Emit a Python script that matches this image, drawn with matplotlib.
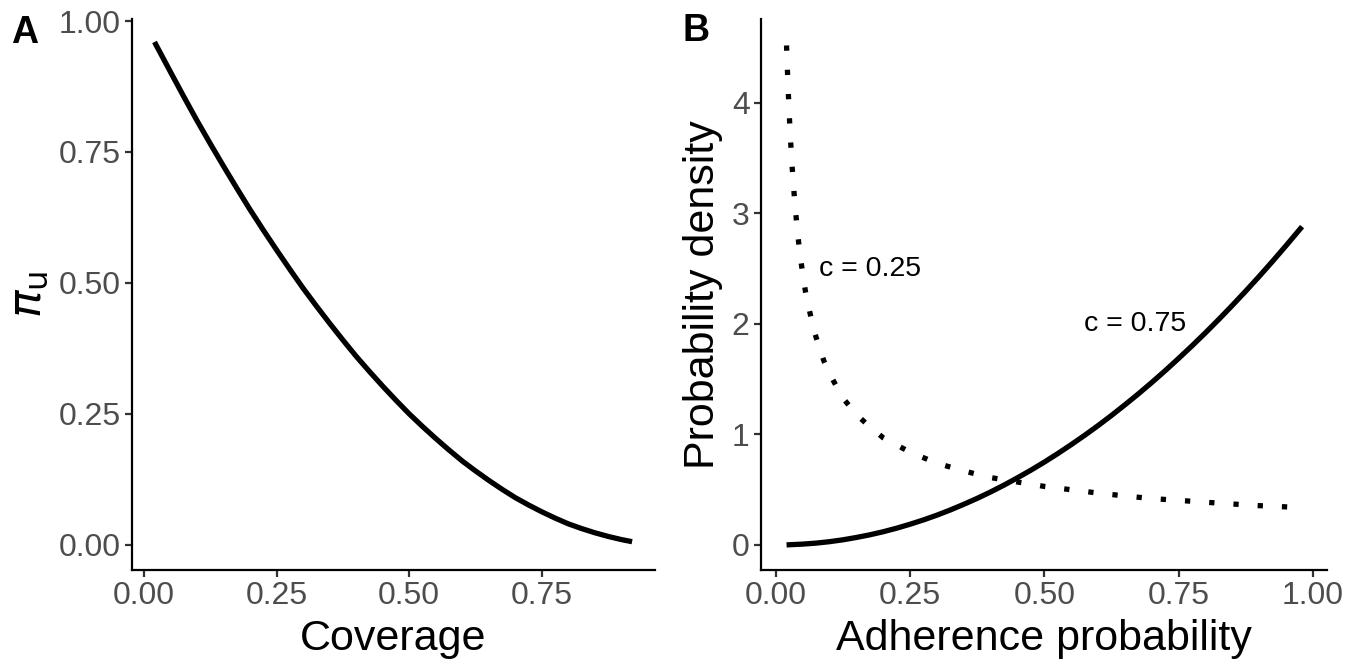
# Coverage / adherence figure, two panels
import matplotlib.pyplot as plt

plt.rcParams['font.family'] = ['Liberation Sans', 'DejaVu Sans']
plt.rcParams['mathtext.fontset'] = 'dejavusans'

# Panel A: pi_u against coverage
coverage = [0.02, 0.05, 0.075, 0.10, 0.125, 0.15, 0.175, 0.20, 0.225, 0.25,
            0.275, 0.30, 0.325, 0.35, 0.375, 0.40, 0.425, 0.45, 0.475, 0.50,
            0.525, 0.55, 0.575, 0.60, 0.625, 0.65, 0.675, 0.70, 0.725, 0.75,
            0.775, 0.80, 0.825, 0.85, 0.875, 0.90, 0.92]
pi_u = [0.960, 0.903, 0.856, 0.810, 0.766, 0.723, 0.681, 0.640, 0.601, 0.563,
        0.526, 0.490, 0.456, 0.423, 0.391, 0.360, 0.331, 0.303, 0.276, 0.250,
        0.226, 0.203, 0.181, 0.160, 0.141, 0.123, 0.106, 0.090, 0.076, 0.063,
        0.051, 0.040, 0.031, 0.023, 0.016, 0.010, 0.006]

# Panel B: adherence densities, c = 0.25 (dotted) and c = 0.75 (solid)
adh_low = [0.02, 0.0225, 0.025, 0.0275, 0.03, 0.035, 0.04, 0.045, 0.05, 0.055,
           0.06, 0.07, 0.08, 0.09, 0.10, 0.125, 0.15, 0.175, 0.20, 0.25,
           0.30, 0.35, 0.40, 0.45, 0.50, 0.55, 0.60, 0.65, 0.70, 0.75,
           0.80, 0.85, 0.90, 0.95, 0.98]
dens_low = [4.52, 4.18, 3.90, 3.66, 3.45, 3.12, 2.85, 2.63, 2.46, 2.30,
            2.18, 1.96, 1.80, 1.66, 1.55, 1.33, 1.18, 1.07, 0.97, 0.84,
            0.74, 0.67, 0.61, 0.57, 0.53, 0.50, 0.47, 0.444, 0.42, 0.404,
            0.387, 0.371, 0.356, 0.345, 0.338]
adh_high = [0.02, 0.05, 0.075, 0.10, 0.125, 0.15, 0.175, 0.20, 0.225, 0.25,
            0.275, 0.30, 0.325, 0.35, 0.375, 0.40, 0.425, 0.45, 0.475, 0.50,
            0.525, 0.55, 0.575, 0.60, 0.625, 0.65, 0.675, 0.70, 0.725, 0.75,
            0.775, 0.80, 0.825, 0.85, 0.875, 0.90, 0.925, 0.95, 0.98]
dens_high = [0.001, 0.008, 0.017, 0.030, 0.047, 0.068, 0.092, 0.120, 0.152, 0.188,
             0.227, 0.270, 0.317, 0.368, 0.422, 0.480, 0.542, 0.608, 0.677, 0.750,
             0.827, 0.908, 0.992, 1.080, 1.172, 1.268, 1.367, 1.470, 1.577, 1.688,
             1.802, 1.920, 2.042, 2.168, 2.297, 2.430, 2.567, 2.708, 2.881]

a_ticks = [0.00, 0.25, 0.50, 0.75, 1.00]
a_labels = ['0.00', '0.25', '0.50', '0.75', '1.00']
b_yticks = [0, 1, 2, 3, 4]

fig = plt.figure(figsize=(13.59, 6.65), dpi=100)
ax1 = fig.add_axes([0.0969, 0.1429, 0.385, 0.8286])
ax2 = fig.add_axes([0.5598, 0.1429, 0.4169, 0.8286])

ax1.plot(coverage, pi_u, color='black', lw=3.8, solid_capstyle='butt',
         solid_joinstyle='round')
ax1.set_xlim(-0.023, 0.963)
ax1.set_ylim(-0.048, 1.004)
ax1.set_xticks(a_ticks[:4])
ax1.set_xticklabels(a_labels[:4])
ax1.set_yticks(a_ticks)
ax1.set_yticklabels(a_labels)
ax1.set_xlabel('Coverage', fontsize=31, labelpad=6)
ax1.set_ylabel(r'$\pi_\mathrm{u}$', fontsize=33, labelpad=6)

ax2.plot(adh_low, dens_low, color='black', lw=3.8, linestyle=(0, (1, 3.6)))
ax2.plot(adh_high, dens_high, color='black', lw=3.8, solid_capstyle='butt',
         solid_joinstyle='round')
ax2.text(0.175, 2.5, 'c = 0.25', fontsize=20.5, ha='center', va='center')
ax2.text(0.67, 2.0, 'c = 0.75', fontsize=20.5, ha='center', va='center')
ax2.set_xlim(-0.028, 1.027)
ax2.set_ylim(-0.226, 4.76)
ax2.set_xticks(a_ticks)
ax2.set_xticklabels(a_labels)
ax2.set_yticks(b_yticks)
ax2.set_xlabel('Adherence probability', fontsize=31, labelpad=6)
ax2.set_ylabel('Probability density', fontsize=31, labelpad=6)

for ax in (ax1, ax2):
    for side in ('top', 'right'):
        ax.spines[side].set_visible(False)
    for side in ('left', 'bottom'):
        ax.spines[side].set_linewidth(1.6)
    ax.tick_params(labelsize=23, labelcolor='#4D4D4D', color='#333333',
                   length=5, width=1.6, pad=3)

fig.text(0.008, 0.935, 'A', fontsize=27, fontweight='bold')
fig.text(0.502, 0.938, 'B', fontsize=27, fontweight='bold')

fig.savefig('out.png', dpi=100)
